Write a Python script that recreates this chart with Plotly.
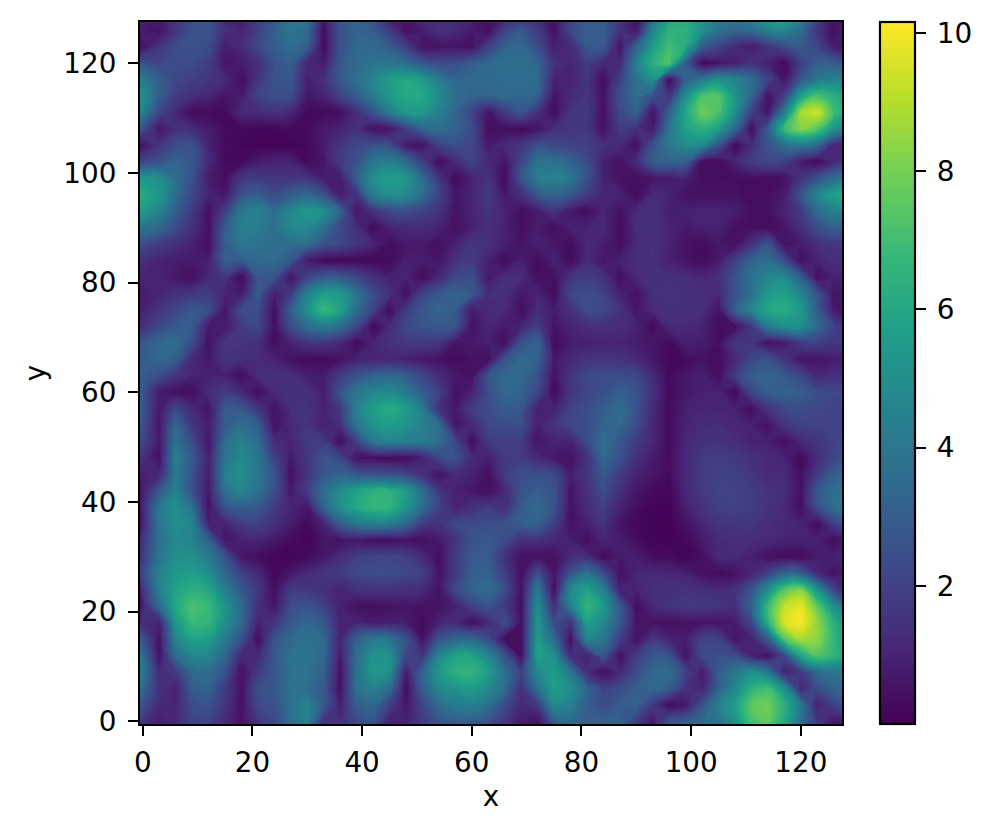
import plotly.graph_objects as go

x_vals = [-0.5] + list(range(3, 130, 3))
y_vals = [-0.5] + list(range(3, 130, 3))
x_tick_vals = [0, 20, 40, 60, 80, 100, 120]
y_tick_vals = [0, 20, 40, 60, 80, 100, 120]
cbar_tick_vals = [2, 4, 6, 8, 10]
z_min = 0.0
z_max = 10.16

y129 = [1.2,1.0,1.8,2.5,2.5,1.0,0.6,1.8,2.6,4.0,4.2,0.8,3.0,3.2,2.6,0.6,0.8,1.2,1.4,1.2,1.0,0.6,1.0,1.2,1.0,0.5,2.0,2.8,2.8,2.0,0.4,3.5,5.6,6.0,5.0,4.3,4.2,5.0,6.4,6.6,5.0,2.6,0.6,0.8]
y126 = [0.8,0.5,1.6,2.6,2.6,1.4,1.0,2.0,3.0,4.0,3.6,0.4,2.6,3.2,3.0,1.8,0.4,0.9,1.4,1.2,0.8,0.4,2.0,2.8,1.8,0.5,2.2,3.0,3.0,1.5,0.6,4.6,6.4,6.4,5.2,3.8,3.4,3.6,4.4,4.6,3.6,1.6,0.4,1.0]
y123 = [0.4,1.6,2.4,2.6,2.4,0.9,1.2,2.2,3.0,3.6,3.0,0.3,2.6,3.4,3.4,3.0,2.0,0.5,0.5,0.6,0.5,2.0,3.2,3.4,2.4,0.9,1.2,2.8,2.8,0.6,3.2,5.6,7.0,6.2,3.0,2.2,1.2,0.9,1.6,2.4,2.8,2.2,0.9,0.4]
y120 = [2.8,2.2,2.4,2.3,1.9,0.6,0.8,1.4,2.6,3.0,1.2,0.8,2.8,3.5,3.9,4.0,3.6,2.8,2.4,2.4,3.0,3.4,3.7,3.7,3.3,1.4,1.0,1.8,1.2,1.2,4.4,6.4,7.4,3.0,0.3,0.6,0.9,1.4,1.0,0.3,2.0,3.0,3.0,2.6]
y117 = [4.4,3.0,2.2,1.9,1.6,1.2,0.4,1.6,2.6,2.8,0.9,1.4,2.8,3.6,4.6,5.6,6.0,5.6,4.2,3.4,3.4,3.5,3.6,3.6,3.5,1.0,1.0,1.6,0.4,2.0,3.8,5.2,0.3,3.2,4.2,5.0,4.6,3.6,2.0,0.6,2.8,4.0,4.5,4.5]
y114 = [5.4,3.0,1.8,1.4,1.1,0.6,0.8,2.0,2.4,2.4,0.7,1.0,2.0,3.0,4.2,5.4,6.1,6.0,4.8,3.6,3.2,3.3,3.4,3.4,3.2,0.6,1.2,1.6,0.5,2.4,3.6,2.6,1.6,5.0,7.2,7.4,5.2,3.4,0.5,2.0,5.8,7.2,6.4,5.4]
y111 = [4.6,2.2,1.2,0.3,0.3,0.3,1.2,1.2,1.4,1.1,0.3,0.3,0.4,1.4,2.6,4.2,5.4,5.4,4.4,3.4,2.2,0.6,1.8,2.6,1.4,0.4,1.6,1.7,0.4,2.2,3.2,0.5,3.2,6.0,7.8,7.2,5.0,2.0,0.6,4.4,8.8,9.4,7.0,5.6]
y108 = [2.8,0.7,1.4,1.3,0.8,0.3,0.2,0.2,0.2,0.3,0.3,0.7,1.0,1.4,0.5,0.6,2.0,3.2,3.6,3.2,2.4,0.4,0.4,0.3,0.6,1.4,1.6,1.7,0.5,1.8,1.4,0.8,4.0,5.8,6.4,5.6,3.4,0.4,3.0,6.8,8.2,7.4,5.2,4.2]
y105 = [0.4,1.6,2.4,2.6,1.0,0.3,0.15,0.1,0.1,0.1,0.2,0.8,1.6,2.2,2.6,2.4,0.8,0.5,2.0,2.4,2.2,0.8,1.2,1.6,2.5,2.3,2.0,1.9,1.4,1.2,0.5,2.6,4.0,4.8,4.8,2.6,0.3,1.4,2.6,3.6,4.0,3.4,1.2,0.8]
y102 = [2.2,2.6,3.2,2.8,1.2,0.3,0.3,0.8,1.0,1.0,0.3,0.6,1.8,2.6,4.0,4.4,3.6,2.0,0.4,1.2,2.0,1.2,0.6,2.2,3.8,3.8,3.2,2.4,0.9,0.5,1.2,3.0,3.2,3.0,0.4,0.3,1.0,1.8,2.2,2.0,0.8,0.3,1.2,1.8]
y99 = [5.4,5.0,3.6,2.6,0.8,0.4,1.6,1.8,1.6,1.6,1.6,0.8,0.8,3.0,5.0,5.6,5.4,3.6,1.6,0.3,1.0,1.5,0.3,2.6,4.2,4.6,4.0,2.6,1.0,0.5,0.4,0.6,0.8,0.9,0.4,0.4,0.4,0.4,0.3,0.5,1.6,2.6,3.6,4.4]
y96 = [6.2,5.4,3.6,2.2,1.0,0.7,2.6,3.0,2.4,3.0,3.4,2.6,0.8,1.6,4.4,5.0,4.8,3.6,2.0,0.6,1.0,1.7,0.7,1.4,2.8,3.2,2.8,1.8,1.0,1.0,0.3,1.2,1.0,0.5,0.5,0.5,0.5,0.3,0.4,0.8,2.6,4.6,5.8,6.0]
y93 = [5.6,4.6,3.0,1.8,0.4,2.0,4.0,4.6,3.6,4.6,5.4,5.0,3.2,0.6,1.5,2.2,2.4,2.0,1.5,0.5,1.0,1.5,1.0,0.4,0.8,1.5,0.7,0.4,1.0,0.5,1.2,1.4,0.9,0.9,1.0,1.0,0.8,0.4,0.4,1.0,1.8,3.6,4.4,4.6]
y90 = [4.0,3.4,2.4,1.4,0.4,3.0,4.4,4.3,3.6,4.8,4.8,3.8,2.2,1.4,0.3,1.0,1.2,1.2,1.0,0.4,1.0,1.3,1.0,0.4,0.8,0.4,0.9,1.0,1.2,0.3,1.3,1.4,1.0,0.7,0.9,0.9,0.5,0.4,0.3,0.6,1.4,2.4,3.0,3.0]
y87 = [2.4,1.9,1.4,1.0,0.4,3.0,4.0,3.8,3.6,3.6,3.6,2.6,2.2,1.6,1.0,0.4,0.7,0.7,0.4,1.0,1.6,1.4,0.9,0.5,0.9,0.7,0.3,1.2,0.9,0.4,1.2,1.4,1.0,0.5,0.3,0.6,0.4,1.5,2.6,0.5,0.8,1.4,1.6,1.6]
y84 = [1.4,1.0,0.8,0.7,0.9,3.0,3.0,3.4,3.6,2.8,0.8,0.3,0.2,0.2,0.2,0.3,0.9,0.8,0.6,1.5,1.8,1.0,0.3,0.9,0.3,1.0,0.3,1.3,0.6,0.9,1.3,1.3,1.0,0.6,0.3,0.8,2.0,3.2,3.6,2.4,0.4,1.0,1.3,1.4]
y81 = [1.0,1.0,0.7,0.4,1.2,1.6,0.3,2.8,2.6,0.6,2.0,2.8,2.8,2.2,1.4,0.9,1.0,0.3,1.2,2.2,2.4,0.7,1.3,1.3,0.4,0.5,1.5,1.8,1.5,0.4,1.2,1.4,1.4,1.3,1.1,1.3,2.6,3.8,4.6,4.8,3.0,0.4,1.0,1.0]
y78 = [0.8,1.0,1.4,1.6,1.8,1.0,0.8,3.0,0.9,1.8,4.4,5.6,5.4,3.8,2.4,1.4,0.4,2.0,2.8,3.2,2.8,1.3,1.4,0.7,1.0,0.3,2.2,2.4,2.0,1.0,0.5,1.4,1.5,1.4,1.3,1.2,2.6,3.8,5.4,5.8,4.6,2.6,0.5,0.8]
y75 = [0.9,1.6,2.2,2.8,2.4,0.6,2.4,2.4,0.4,3.0,5.0,6.8,5.8,3.6,2.0,0.4,1.8,2.8,3.2,3.0,0.8,1.2,1.2,0.4,1.3,0.8,1.4,2.4,2.2,1.5,0.6,1.2,1.4,1.4,1.3,0.6,3.0,4.6,6.0,6.2,5.4,3.0,0.8,0.4]
y72 = [1.4,2.2,2.8,3.0,0.8,0.8,1.8,2.2,0.4,2.4,3.6,4.2,3.6,2.2,0.3,1.2,2.2,2.6,2.8,2.6,0.5,1.1,0.7,1.0,1.8,0.6,1.0,1.3,1.4,1.3,1.0,0.3,1.2,1.2,1.0,0.3,0.5,1.8,4.2,5.0,5.0,3.4,2.0,1.5]
y69 = [2.6,3.4,3.6,2.4,0.5,1.6,1.6,1.4,0.4,1.0,1.5,1.6,1.2,0.3,1.0,1.4,1.7,1.7,1.6,0.6,0.7,0.9,0.4,2.6,3.2,0.3,0.8,0.9,1.0,1.0,0.8,0.6,0.3,0.9,0.8,0.4,1.6,1.5,0.5,0.8,1.8,2.0,1.7,2.0]
y66 = [2.8,3.4,3.0,1.2,0.7,1.5,1.4,1.2,1.0,0.5,0.3,0.3,0.5,1.0,1.0,1.1,0.9,0.7,0.5,0.3,0.5,0.4,2.6,3.4,3.2,0.7,1.1,1.5,1.6,1.5,1.2,0.7,0.2,0.3,0.5,0.3,1.2,2.2,2.6,1.6,0.6,0.6,0.8,1.0]
y63 = [3.0,2.4,1.6,1.0,0.9,0.9,0.4,1.3,1.4,1.3,0.9,0.8,1.8,2.6,3.2,3.4,3.0,2.2,1.3,0.7,0.4,2.6,3.4,3.4,2.6,0.5,1.6,2.2,2.4,2.4,2.2,1.2,0.3,0.6,0.9,0.4,1.8,3.0,3.2,2.8,2.2,1.2,1.4,1.4]
y60 = [3.0,0.8,0.4,0.4,1.3,1.8,1.2,0.4,1.2,1.4,1.4,0.8,2.6,4.0,4.6,4.8,4.2,3.0,2.0,0.4,1.0,2.4,3.4,3.2,2.2,0.3,1.6,2.1,2.5,3.0,2.6,1.4,0.3,0.7,0.9,1.0,0.3,2.2,3.0,3.2,3.0,2.4,2.3,2.3]
y57 = [3.2,0.7,2.2,1.2,0.6,2.8,2.8,1.6,0.5,1.4,1.5,0.9,1.8,4.4,5.6,6.2,5.6,4.2,1.4,0.7,1.8,2.4,2.9,2.8,0.9,1.0,2.0,2.4,3.0,3.6,2.6,1.2,0.3,0.9,1.0,1.0,0.9,0.4,1.6,2.2,2.4,2.2,2.0,2.0]
y54 = [2.8,0.6,3.4,1.6,0.8,3.0,3.6,3.0,0.5,1.2,1.6,0.8,1.4,4.0,5.2,5.6,5.2,4.4,3.6,0.6,1.2,2.2,2.4,2.4,0.9,1.5,2.2,2.4,3.2,3.4,2.4,1.1,0.3,1.0,1.2,1.3,1.1,0.9,0.5,1.6,2.0,2.0,2.0,2.0]
y51 = [2.4,0.7,3.8,2.4,0.6,3.6,4.4,3.6,1.3,1.0,1.8,1.8,0.4,2.0,4.0,4.6,4.4,4.2,3.6,2.2,0.4,1.8,1.9,1.8,0.6,1.0,1.0,2.4,3.6,2.8,1.8,1.1,0.3,1.1,1.4,1.5,1.3,1.0,0.9,0.4,1.2,1.6,2.0,2.2]
y48 = [1.6,0.5,4.4,2.8,0.9,4.0,4.8,4.0,2.0,0.8,1.6,2.6,2.2,0.5,0.4,0.3,0.3,1.0,2.2,2.6,1.2,0.9,1.7,1.8,1.2,0.7,0.5,1.5,3.4,2.6,1.4,0.8,0.3,1.2,1.7,1.9,1.7,1.4,1.2,1.0,0.3,1.3,2.2,2.6]
y45 = [0.9,1.2,4.2,2.6,0.8,4.4,5.0,4.0,2.6,0.5,1.6,2.8,3.2,2.8,2.6,2.5,2.2,1.4,0.6,1.2,1.0,0.4,1.8,2.4,2.5,2.3,0.8,1.6,2.8,1.8,1.0,0.6,0.3,1.2,1.8,2.0,1.9,1.6,1.2,1.2,0.4,1.9,3.0,3.6]
y42 = [0.5,2.8,4.6,2.6,0.7,3.8,4.6,3.8,2.4,0.7,1.8,3.6,4.8,5.8,6.4,6.4,5.6,3.6,1.6,0.9,0.7,0.4,1.2,2.6,3.0,2.6,0.6,1.4,2.4,1.4,0.6,0.3,0.2,1.1,1.7,2.0,2.0,1.8,1.5,1.3,0.4,2.8,3.6,4.0]
y39 = [0.6,4.0,5.0,3.8,0.5,2.6,3.0,2.8,1.8,1.0,0.7,3.2,5.0,6.0,6.7,6.6,5.2,3.6,2.0,1.0,1.4,1.8,1.4,3.0,3.4,2.6,0.5,1.3,1.9,1.0,0.4,0.1,0.1,0.9,1.5,1.9,2.0,1.8,1.5,1.2,0.4,2.4,3.6,4.0]
y36 = [0.5,4.0,5.0,4.6,1.0,1.0,1.8,2.0,1.4,0.8,0.3,1.0,3.0,4.0,4.4,4.2,3.4,1.8,1.5,2.2,2.4,2.4,2.6,3.0,3.2,1.9,0.5,0.9,1.5,0.6,0.2,0.1,0.1,0.5,1.1,1.5,1.6,1.6,1.3,1.1,1.0,0.4,1.9,3.0]
y33 = [1.2,3.8,4.8,4.6,3.2,0.6,0.9,1.0,0.7,0.3,0.1,0.6,0.5,0.6,0.4,0.4,0.5,0.4,0.7,1.6,2.6,2.8,2.4,1.4,1.4,1.1,0.9,0.4,1.0,0.8,0.4,0.1,0.1,0.2,0.8,1.2,1.3,1.3,1.2,1.0,1.0,0.9,0.4,0.9]
y30 = [1.4,4.0,5.0,5.0,4.2,2.6,0.6,0.4,0.2,0.1,0.3,0.7,1.3,1.9,2.1,2.1,1.9,1.2,0.4,1.8,2.8,3.0,1.5,0.5,0.4,0.5,1.2,1.3,0.3,0.8,0.8,0.4,0.3,0.1,0.4,1.2,1.2,0.9,0.5,0.3,0.3,0.8,1.0,1.0]
y27 = [1.9,4.4,5.4,5.6,5.0,3.4,2.0,1.2,0.2,0.7,1.2,1.6,1.8,2.2,2.4,2.4,2.2,2.0,0.5,1.8,3.0,3.2,1.9,0.4,2.4,0.5,2.6,3.8,2.4,0.5,1.0,1.2,1.1,0.9,0.5,0.3,0.5,1.1,2.0,3.2,3.0,1.2,0.5,1.0]
y24 = [1.0,4.4,5.8,6.4,6.0,4.4,2.8,1.6,0.4,1.8,1.6,1.4,1.0,1.4,1.5,1.5,1.4,1.2,0.5,2.2,3.2,3.6,2.4,0.4,4.2,0.4,4.8,5.8,4.4,1.0,1.0,1.3,1.4,1.5,1.4,1.2,1.4,2.6,5.0,7.4,8.2,5.2,2.2,0.4]
y21 = [0.5,3.6,6.0,7.2,6.8,5.2,3.4,1.4,0.6,2.4,2.6,2.0,0.9,0.5,0.4,0.5,0.6,0.5,0.5,1.0,2.0,2.6,1.8,0.4,5.0,1.4,4.4,6.6,5.4,2.8,0.4,1.2,1.5,1.7,1.7,1.6,1.4,3.2,6.8,9.2,9.8,7.6,5.0,3.2]
y18 = [1.4,1.0,5.4,6.8,6.6,5.0,3.4,1.0,1.6,2.8,3.4,2.8,1.0,1.0,0.8,0.9,0.8,0.3,1.0,1.2,0.4,1.2,2.5,0.4,5.4,2.4,1.6,5.6,4.8,2.8,0.6,0.5,0.4,0.5,0.5,0.5,0.8,2.2,6.4,9.6,10.1,8.4,6.4,4.8]
y15 = [3.0,0.5,4.6,5.8,5.6,4.2,2.6,0.4,2.6,3.4,3.8,3.4,1.0,3.2,4.0,3.8,2.6,0.5,2.6,3.2,3.4,2.4,0.4,0.4,5.6,3.6,0.4,4.6,4.0,2.0,0.5,1.6,1.0,0.8,2.0,2.0,0.6,1.0,3.0,7.4,8.8,8.4,6.6,5.0]
y12 = [4.2,0.5,3.6,4.6,4.6,3.4,1.2,1.2,2.8,3.8,3.9,3.4,0.8,3.6,5.2,5.2,2.2,1.6,4.6,5.8,5.8,4.6,2.6,0.4,5.8,5.0,1.4,1.0,2.8,0.5,1.8,2.8,2.6,0.5,2.4,2.4,2.4,1.0,0.5,2.4,6.0,7.4,6.6,5.4]
y9 = [4.6,1.2,1.8,3.4,3.6,2.6,0.4,1.8,2.8,3.8,3.8,3.2,0.5,3.8,5.4,5.0,0.9,3.2,5.4,6.4,6.6,5.6,3.6,2.0,4.8,5.6,4.0,1.4,0.4,1.2,2.4,3.4,3.6,2.0,0.8,3.0,4.0,5.0,4.0,1.0,1.8,3.6,4.0,4.0]
y6 = [3.8,1.4,1.0,3.0,3.2,1.8,0.5,2.4,2.8,3.8,3.6,2.8,0.5,3.8,4.4,3.6,0.4,3.0,4.8,5.2,5.6,4.8,3.6,1.4,3.8,5.6,5.0,3.2,2.0,2.4,3.0,3.4,3.0,1.5,1.0,3.2,4.8,6.4,7.0,5.0,1.2,2.4,3.2,3.4]
y3 = [2.8,1.2,1.0,2.4,2.6,1.6,0.5,2.2,2.6,3.8,4.6,2.8,0.9,3.0,3.4,2.0,0.6,2.2,3.6,4.2,4.4,3.8,2.4,1.2,1.8,4.8,4.4,3.0,2.4,2.8,3.2,1.8,0.4,0.7,2.6,4.4,5.6,7.6,7.9,6.4,4.0,1.0,2.0,2.8]
y0 = [1.6,0.8,1.2,2.0,2.0,1.2,0.5,1.6,2.2,3.6,4.4,1.4,1.4,2.2,2.6,0.8,1.0,1.8,2.6,2.8,2.8,2.4,1.6,0.7,0.4,2.8,3.4,3.0,3.2,3.2,1.8,0.6,3.0,3.4,3.6,3.8,5.0,7.0,7.6,6.0,3.6,1.8,0.5,1.0]

z_rows = [y0,y3,y6,y9,y12,y15,y18,y21,y24,y27,y30,y33,y36,y39,y42,y45,y48,y51,y54,y57,y60,y63,y66,y69,y72,y75,y78,y81,y84,y87,y90,y93,y96,y99,y102,y105,y108,y111,y114,y117,y120,y123,y126,y129]

W, H = 980, 821
OFF = 8
L, R, T, B = 140 - OFF, 842 - OFF, 22 - OFF, 724 - OFF
FONT = dict(family="DejaVu Sans", size=27.8, color="black")
axis_common = dict(
    showgrid=False, zeroline=False, showline=True, mirror=True,
    linecolor="black", linewidth=2.2, ticks="outside", ticklen=10,
    tickwidth=2.2, tickcolor="black", tickfont=FONT, tickmode="array",
)

fig = go.Figure(go.Contour(
    x=x_vals, y=y_vals, z=z_rows, zmin=z_min, zmax=z_max,
    colorscale="Viridis",
    contours=dict(coloring="fill", start=z_min, end=z_max, size=0.06, showlines=False),
    line=dict(width=0, smoothing=1.3),
    colorbar=dict(
        x=(880 - OFF) / W, xanchor="left", xref="paper",
        y=(H - B) / H, yanchor="bottom", yref="paper",
        len=(B - T) / H, lenmode="fraction",
        thickness=35, thicknessmode="pixels",
        outlinecolor="black", outlinewidth=2.2,
        ticks="outside", ticklen=10, tickwidth=2.2, tickcolor="black",
        tickfont=FONT, tickmode="array", tickvals=cbar_tick_vals,
        ticktext=["\u2009" + str(v) for v in cbar_tick_vals], xpad=0, ypad=0,
    ),
))
fig.update_layout(
    width=W, height=H, autosize=False,
    margin=dict(l=0, r=0, t=0, b=0, autoexpand=False),
    paper_bgcolor="white", plot_bgcolor="white", font=FONT,
    xaxis=dict(axis_common, domain=[L / W, R / W], range=[-0.5, 127.5],
               tickvals=x_tick_vals, ticktext=[str(v) for v in x_tick_vals],
               ticklabelstandoff=3,
               title=dict(text="x", font=FONT, standoff=8)),
    yaxis=dict(axis_common, domain=[(H - B) / H, (H - T) / H], range=[-0.5, 127.5],
               tickvals=y_tick_vals, ticktext=[str(v) for v in y_tick_vals],
               ticklabelstandoff=6,
               title=dict(text="y", font=FONT, standoff=10)),
)
fig.write_html("out.html")
